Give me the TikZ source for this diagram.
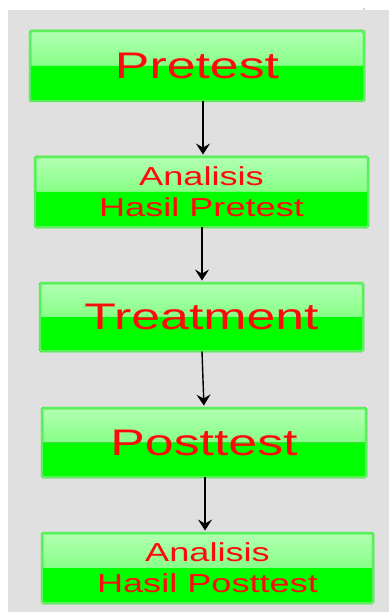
\documentclass[tikz,border=0pt]{standalone}
\usepackage{fontspec}
\setmainfont{Liberation Sans}
\usetikzlibrary{arrows.meta}
\definecolor{bggray}{HTML}{E0E0E0}
\definecolor{GTop}{HTML}{B2FFB2}
\definecolor{GMid}{HTML}{5CFF5C}
\definecolor{GBot}{HTML}{00FF00}
\definecolor{GBorder}{HTML}{2EE82E}
\definecolor{GInner}{HTML}{A8FFA8}
\definecolor{txtred}{HTML}{FF0A0A}
\newcommand\bigfnt{\fontsize{37}{37}\selectfont}
\newcommand\midfnt{\fontsize{26}{31}\selectfont}
\begin{document}
\begin{tikzpicture}[x=1pt,y=-1pt,
  gbox/.style={draw=GBorder, line width=0.9pt, double=GInner, double distance=0.7pt,
    rounded corners=1.5pt, inner sep=0pt, text=txtred, align=center,
    path picture={
      \fill[top color=GTop, bottom color=GMid] (path picture bounding box.north west) rectangle (path picture bounding box.east);
      \fill[GBot] (path picture bounding box.west) rectangle (path picture bounding box.south east);
    }},
  arr/.style={draw=black, line width=1.4pt, -{Stealth[length=11pt,width=14pt,inset=4pt]}, shorten >=2pt}]
\useasboundingbox (0,0) rectangle (389,612);
\fill[white] (0,0) rectangle (389,612);
\fill[bggray] (8,10) rectangle (389,612);
\fill[black!70] (364,9) circle (0.7);

\node[gbox, minimum width=334pt, minimum height=70pt, font=\bigfnt] (b1) at (197,66) {\scalebox{1.4}[1]{Pretest}};
\node[gbox, minimum width=333pt, minimum height=70pt, font=\midfnt] (b2) at (201.5,192) {\scalebox{1.39}[1]{Analisis}\\\scalebox{1.39}[1]{Hasil Pretest}};
\node[gbox, minimum width=323pt, minimum height=68pt, font=\bigfnt] (b3) at (201.5,317) {\scalebox{1.4}[1]{Treatment}};
\node[gbox, minimum width=324pt, minimum height=69pt, font=\bigfnt] (b4) at (204,442.5) {\scalebox{1.4}[1]{Posttest}};
\node[gbox, minimum width=331pt, minimum height=70pt, font=\midfnt] (b5) at (207.5,568) {\scalebox{1.39}[1]{Analisis}\\\scalebox{1.39}[1]{Hasil Posttest}};

\draw[arr] ([xshift=6pt]b1.south) -- ([xshift=1.5pt]b2.north);
\draw[arr] ([xshift=0.5pt]b2.south) -- ([xshift=0.5pt]b3.north);
\draw[arr] ([xshift=0.5pt]b3.south) -- ([xshift=0pt]b4.north);
\draw[arr] ([xshift=1pt]b4.south) -- ([xshift=-2.5pt]b5.north);
\end{tikzpicture}
\end{document}
